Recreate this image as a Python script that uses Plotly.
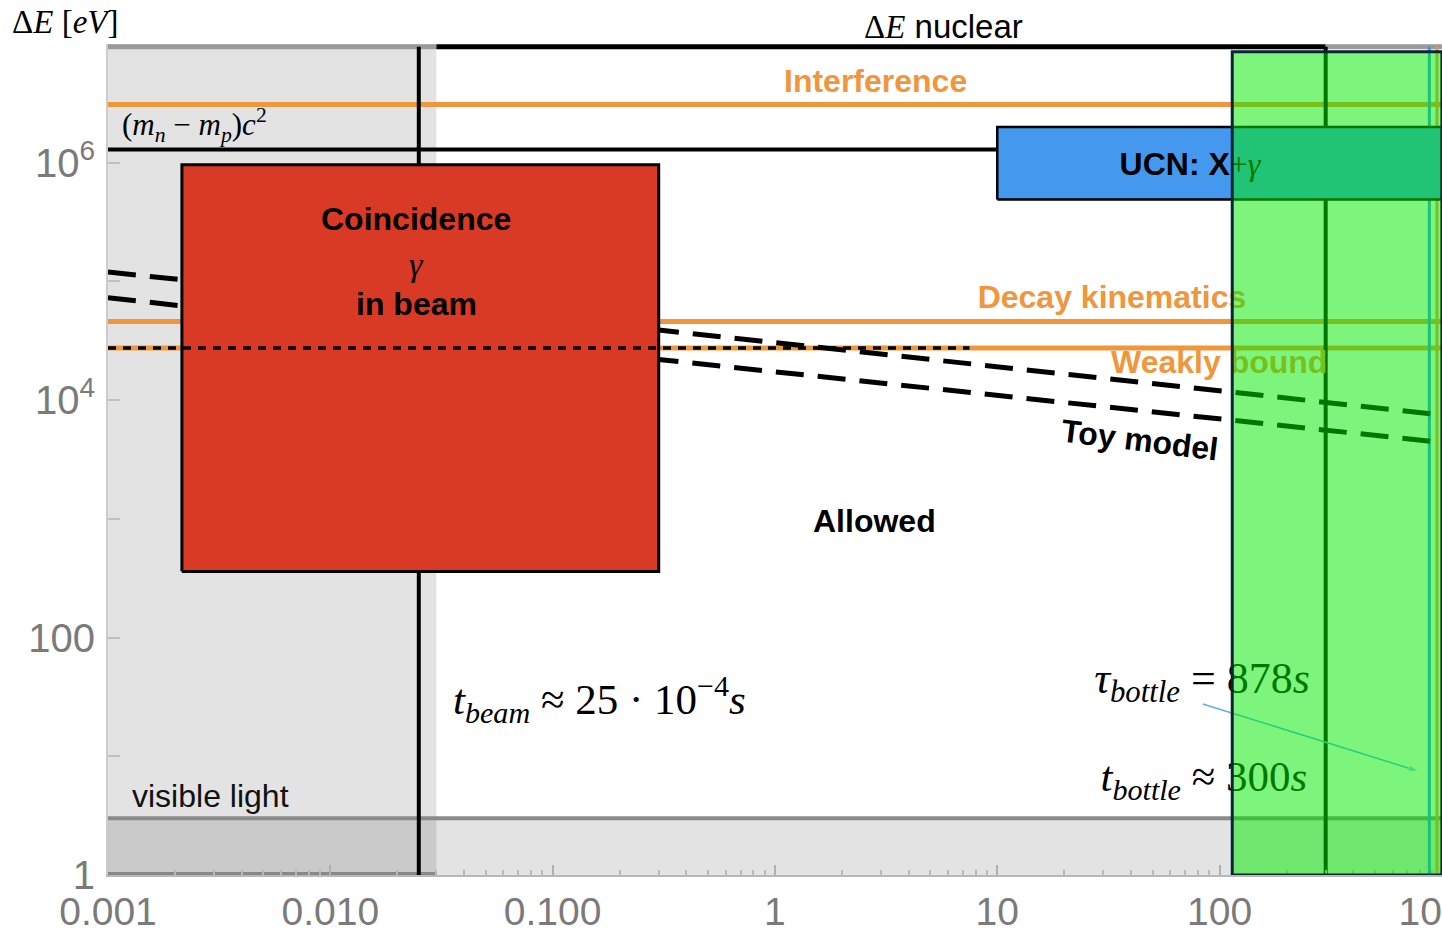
import math
import plotly.graph_objects as go

# ---------------- data ----------------
x_ticks = [0.001, 0.01, 0.1, 1, 10, 100, 1000]
x_tick_text = ["0.001", "0.010", "0.100", "1", "10", "100", "1000"]
y_ticks = [1, 10, 100, 1e3, 1e4, 1e5, 1e6]
y_tick_text = ["1", "", "100", "", "10<sup>4</sup>", "", "10<sup>6</sup>"]

x_full = [0.001, 1000]
interference_E = 3.1e6
mass_diff_E = 1.293e6
mass_diff_x = [0.001, 10]
decay_kin_E = 4.6e4
weakly_bound_E = 2.75e4
weakly_dotted_x = [0.001, 7.5]
visible_light_E = 3.0
nuclear_E = 9.5e6
nuclear_gray_left_x = [0.001, 0.03]
nuclear_black_x = [0.03, 300]
nuclear_gray_right_x = [300, 1000]

t_beam_line = 0.025
t_bottle = 300
tau_bottle = 878
t_orange_vertical = 950

gray_region_x = [0.001, 0.03]
coincidence_x = [0.00215, 0.30]
coincidence_E = [360, 9.6e5]
ucn_x = [10, 1000]
ucn_E = [4.9e5, 2.0e6]
green_x = [114, 1000]
green_E = [1, 8.6e6]

toy_t = [0.001, 0.3, 1000]
toy_upper = [1.2e5, 3.9e4, 7.5e3]
toy_lower = [7.3e4, 2.2e4, 4.4e3]

arrow_t = [84, 782]
arrow_E = [27.6, 7.5]

# ---------------- styles ----------------
ORANGE = "#F0963C"
RED = "#D93A26"
BLUE = "#4499EE"
SANS = "Liberation Sans"
SERIF = "Liberation Serif"
TICKGRAY = "#7a7a7a"
LABEL = 32

fig = go.Figure()


def seg(x, y, color, width, dash=None):
    fig.add_trace(go.Scatter(x=x, y=y, mode="lines",
                             line=dict(color=color, width=width, dash=dash),
                             hoverinfo="skip", showlegend=False))


def box(x, y, fill, lw=3):
    fig.add_trace(go.Scatter(x=[x[0], x[1], x[1], x[0], x[0]],
                             y=[y[0], y[0], y[1], y[1], y[0]],
                             mode="lines", fill="toself", fillcolor=fill,
                             line=dict(color="black", width=lw),
                             hoverinfo="skip", showlegend=False))


def txt(x, y, text, size, family=SANS, color="black"):
    fig.add_trace(go.Scatter(x=[x], y=[y], mode="text", text=[text],
                             textposition="middle center",
                             textfont=dict(family=family, size=size, color=color),
                             hoverinfo="skip", showlegend=False))


# orange horizontal lines
seg(x_full, [interference_E] * 2, ORANGE, 5)
seg(x_full, [decay_kin_E] * 2, ORANGE, 5)
seg(x_full, [weakly_bound_E] * 2, ORANGE, 5)

# visible light line, frame segments
seg(x_full, [visible_light_E] * 2, "#8a8a8a", 4)
seg(nuclear_gray_left_x, [nuclear_E] * 2, "#9a9a9a", 5)
seg(nuclear_black_x, [nuclear_E] * 2, "black", 5)
seg(nuclear_gray_right_x, [nuclear_E] * 2, "#9a9a9a", 5)
seg(gray_region_x, [1, 1], "#888888", 6)

# black lines
seg(mass_diff_x, [mass_diff_E] * 2, "black", 4)
seg([t_beam_line] * 2, [1, nuclear_E], "black", 4)
seg([t_bottle] * 2, [1, nuclear_E], "black", 4)
seg([tau_bottle] * 2, [1, nuclear_E], "#3399EE", 3)
seg([t_orange_vertical] * 2, [1, nuclear_E], ORANGE, 3)

# toy model dashed lines
seg(toy_t, toy_upper, "black", 5, "28px,14px")
seg(toy_t, toy_lower, "black", 5, "28px,14px")

# coincidence box
box(coincidence_x, coincidence_E, RED, 3)

# dotted weakly-bound line on top of the box
seg(weakly_dotted_x, [weakly_bound_E] * 2, "black", 3.5, "8px,7px")

# UCN box
box(ucn_x, ucn_E, BLUE, 2.5)

# texts which lie (partly) under the green overlay
txt(73.6, 9.25e5,
    f"<b>UCN: X</b><span style='font-family:{SERIF}'>+<i>γ</i></span>", LABEL)
txt(32.8, 7.0e4, "<b>Decay kinematics</b>", LABEL, color=ORANGE)
txt(99.6, 1.99e4, "<b>Weakly bound</b>", LABEL, color=ORANGE)
txt(83.4, 42.3, "<i>τ<sub>bottle</sub></i> = 878<i>s</i>", 44, family=SERIF)
txt(85.0, 6.32, "<i>t<sub>bottle</sub></i> ≈ 300<i>s</i>", 43, family=SERIF)

# arrow
fig.add_trace(go.Scatter(x=arrow_t, y=arrow_E, mode="lines+markers",
                         line=dict(color="#55B0F0", width=1.5),
                         marker=dict(symbol=["circle", "arrow"], size=[0, 10],
                                     angleref="previous", color="#55B0F0"),
                         hoverinfo="skip", showlegend=False))

# ---------------- shapes ----------------
fig.add_shape(type="rect", xref="x", yref="y", layer="below",
              x0=gray_region_x[0], x1=gray_region_x[1], y0=1, y1=1e7,
              fillcolor="rgba(0,0,0,0.11)", line=dict(width=0))
fig.add_shape(type="rect", xref="x", yref="y", layer="below",
              x0=x_full[0], x1=x_full[1], y0=1, y1=visible_light_E,
              fillcolor="rgba(0,0,0,0.11)", line=dict(width=0))
fig.add_shape(type="rect", xref="x", yref="y", layer="above",
              x0=green_x[0], x1=green_x[1], y0=green_E[0], y1=green_E[1],
              fillcolor="rgba(0,235,0,0.51)", line=dict(color="#0b2535", width=3))


# ---------------- annotations ----------------
def ann(x, y, text, size, family=SANS, color="black", angle=0, xanchor="center",
        xref="x", yref="y"):
    fig.add_annotation(x=x, y=y, xref=xref, yref=yref, text=text, showarrow=False,
                       textangle=angle, xanchor=xanchor, yanchor="middle",
                       font=dict(family=family, size=size, color=color))


ann(math.log10(2.82), math.log10(4.9e6), "<b>Interference</b>", LABEL, color=ORANGE)
ann(math.log10(0.00113), math.log10(2.09e6),
    "(<i>m<sub>n</sub></i> − <i>m<sub>p</sub></i>)<i>c</i><sup>2</sup>", 31,
    family=SERIF, xanchor="left")
ann(math.log10(0.0243), math.log10(3.37e5), "<b>Coincidence</b>", LABEL)
ann(math.log10(0.0243), math.log10(1.38e5), "<i>γ</i>", 34, family=SERIF)
ann(math.log10(0.0243), math.log10(6.48e4), "<b>in beam</b>", LABEL)
ann(math.log10(43.8), math.log10(4.63e3), "<b>Toy model</b>", LABEL, angle=7)
ann(math.log10(2.79), math.log10(962), "<b>Allowed</b>", LABEL)
ann(math.log10(0.163), math.log10(29.8),
    "<i>t<sub>beam</sub></i> ≈ 25 · 10<sup>−4</sup><i>s</i>", 43, family=SERIF)
ann(math.log10(0.00288), math.log10(4.63), "visible light", LABEL, color="#111111")
ann(-0.032, 1.027, "Δ<i>E</i> [<i>eV</i>]", 33, family=SERIF, xref="paper", yref="paper")
ann(0.626, 1.021, f"<span style='font-family:{SERIF}'>Δ<i>E</i></span> nuclear", 33,
    xref="paper", yref="paper")

# ---------------- axes ----------------
minor_x = [m * 10 ** e for e in range(-3, 3) for m in range(2, 10)]

fig.update_xaxes(type="log", range=[-3, 3.0004], tickmode="array", tickvals=x_ticks,
                 ticktext=x_tick_text, ticks="inside", ticklen=10, tickwidth=1.5,
                 tickcolor="#b0b0b0", showgrid=False, zeroline=False,
                 showline=True, linecolor="#b8b8b8", linewidth=2,
                 tickfont=dict(family=SANS, size=39, color=TICKGRAY),
                 ticklabelstandoff=1, ticklabeloverflow="allow", automargin=False,
                 minor=dict(tickmode="array", tickvals=minor_x, ticks="inside",
                            ticklen=5, tickcolor="#b8b8b8", showgrid=False))
fig.update_yaxes(type="log", range=[0, 7], tickmode="array", tickvals=y_ticks,
                 ticktext=y_tick_text, ticks="inside", ticklen=12, tickwidth=1.5,
                 tickcolor="#c0c0c0", showgrid=False, zeroline=False,
                 showline=True, linecolor="#cccccc", linewidth=2,
                 tickfont=dict(family=SANS, size=40, color=TICKGRAY),
                 ticklabelstandoff=3, automargin=False)

fig.update_layout(width=1442, height=932, autosize=False,
                  margin=dict(l=108, r=0, t=44, b=57),
                  plot_bgcolor="white", paper_bgcolor="white",
                  showlegend=False)

fig.write_html("out.html", config={"displayModeBar": False},
               post_script="document.body.style.margin='0';"
                           "document.body.style.overflow='hidden';")
